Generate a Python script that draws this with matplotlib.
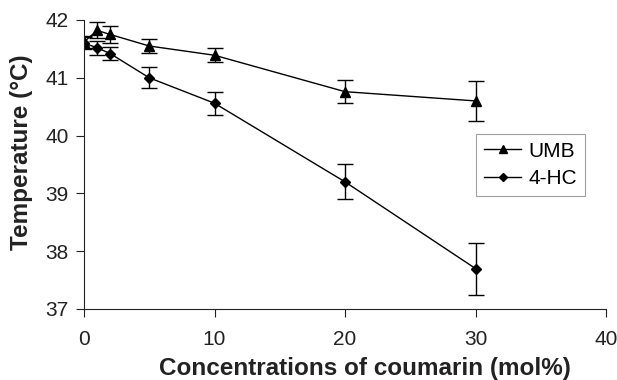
import matplotlib
matplotlib.use("Agg")
import matplotlib.pyplot as plt
from matplotlib.lines import Line2D

plt.rcParams['font.family'] = ['Liberation Sans', 'DejaVu Sans']

# concentrations (mol%)
conc = [0, 1, 2, 5, 10, 20, 30]

# transition temperatures (oC) and error bars
umb = [41.62, 41.82, 41.75, 41.55, 41.39, 40.76, 40.6]
umb_err = [0.1, 0.14, 0.15, 0.12, 0.12, 0.2, 0.35]
hc = [41.6, 41.52, 41.42, 41.0, 40.56, 39.2, 37.7]
hc_err = [0.1, 0.12, 0.12, 0.18, 0.2, 0.3, 0.45]

fig = plt.figure(figsize=(6.17, 3.8), dpi=100)
ax = fig.add_axes([84/617, 1 - 309/380, (606 - 84)/617, (309 - 20)/380])

ax.errorbar(conc, umb, yerr=umb_err, color='black', lw=1, marker='^', ms=7,
            capsize=6, elinewidth=1, capthick=1)
ax.errorbar(conc, hc, yerr=hc_err, color='black', lw=1, marker='D', ms=5,
            capsize=6, elinewidth=1, capthick=1)

ax.set_xlim(0, 40)
ax.set_ylim(37, 42)
ax.set_xticks([0, 10, 20, 30, 40])
ax.set_yticks([37, 38, 39, 40, 41, 42])
ax.spines['top'].set_visible(False)
ax.spines['right'].set_visible(False)
ax.spines['left'].set_color('#222222')
ax.spines['bottom'].set_color('#222222')
ax.tick_params(direction='out', length=6, labelsize=15, colors='#222222', pad=5)
ax.tick_params(axis='x', pad=9)

ax.set_xlabel('Concentrations of coumarin (mol%)', fontsize=17.5, fontweight='bold',
              color='#222222', va='center')
ax.xaxis.set_label_coords((365 - 84) / 522, (309 - 368) / 289)
ax.set_ylabel('Temperature (°C)', fontsize=17.5, fontweight='bold',
              color='#222222', va='center')
ax.yaxis.set_label_coords((22 - 84) / 522, (309 - 152) / 289)

handles = [Line2D([], [], color='black', lw=1, marker='^', ms=6),
           Line2D([], [], color='black', lw=1, marker='D', ms=4)]
leg = ax.legend(handles, ['UMB', '4-HC'], loc='upper right',
                bbox_to_anchor=(585/617, 1 - 134/380),
                bbox_transform=fig.transFigure, fontsize=15, frameon=True,
                fancybox=False, edgecolor='#888888', handlelength=1.8,
                borderpad=0.37, labelspacing=0.4, handletextpad=0.35,
                borderaxespad=0)
leg.get_frame().set_linewidth(0.8)

fig.savefig('out.png', dpi=100)
